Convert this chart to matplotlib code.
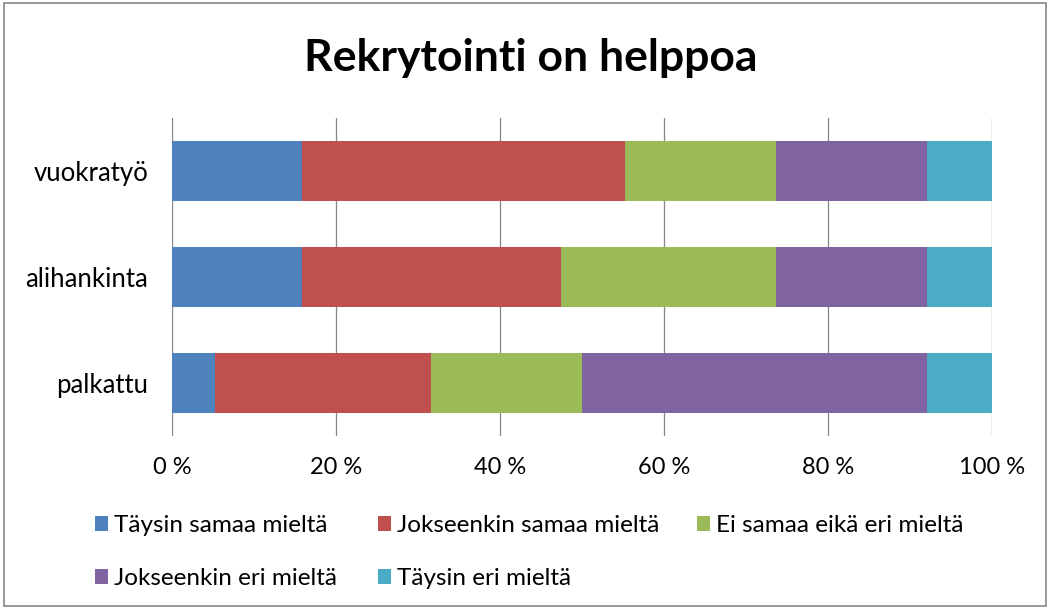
import matplotlib.pyplot as plt
from matplotlib.patches import Rectangle
import numpy as np

plt.rcParams['font.family'] = ['Lato', 'DejaVu Sans']

# Data (percent of answers)
categories = ['palkattu', 'alihankinta', 'vuokratyö']
series = ['Täysin samaa mieltä', 'Jokseenkin samaa mieltä', 'Ei samaa eikä eri mieltä',
          'Jokseenkin eri mieltä', 'Täysin eri mieltä']
taysin_samaa = [5.3, 15.8, 15.8]
jokseenkin_samaa = [26.3, 31.6, 39.5]
ei_samaa_eika_eri = [18.4, 26.3, 18.4]
jokseenkin_eri = [42.1, 18.4, 18.4]
taysin_eri = [7.9, 7.9, 7.9]
xticks = [0, 20, 40, 60, 80, 100]
xtick_labels = ['0 %', '20 %', '40 %', '60 %', '80 %', '100 %']
colors = ['#4F81BD', '#C0504D', '#9BBB59', '#8064A2', '#4BACC6']

values = [taysin_samaa, jokseenkin_samaa, ei_samaa_eika_eri, jokseenkin_eri, taysin_eri]

fig = plt.figure(figsize=(10.48, 6.08), dpi=100)
ax = fig.add_axes([0.1641, 0.2829, 0.7825, 0.523])

y = np.arange(len(categories))
left = np.zeros(len(categories))
handles = []
for name, vals, c in zip(series, values, colors):
    b = ax.barh(y, vals, left=left, height=0.566, color=c, label=name, zorder=3)
    handles.append(b)
    left += np.array(vals)

ax.set_xlim(0, 100)
ax.set_ylim(-0.5, 2.5)
ax.set_xticks(xticks)
ax.set_xticklabels(xtick_labels, fontsize=17)
ax.set_yticks(y)
ax.set_yticklabels(categories, fontsize=18.5)
ax.tick_params(axis='both', length=0)
ax.tick_params(axis='x', pad=15)
ax.tick_params(axis='y', pad=17)
ax.xaxis.grid(True, color='#868686', linewidth=0.9, zorder=0)
ax.set_axisbelow(True)
for s in ax.spines.values():
    s.set_visible(False)

fig.text(0.506, 0.904, 'Rekrytointi on helppoa', ha='center', va='center',
         fontsize=32, fontweight='bold')

# legend laid out row-wise in three columns, like the original
columns = [[0, 3], [1, 4], [2]]
col_x = [95 / 1048, 378 / 1048, 697 / 1048]
for idx, cx in zip(columns, col_x):
    leg = fig.legend([handles[i] for i in idx], [series[i] for i in idx],
                     loc='upper left', bbox_to_anchor=(cx, 0.153), frameon=False,
                     fontsize=17.5, handlelength=0.55, handleheight=0.55,
                     handletextpad=0.25, labelspacing=1.32, borderaxespad=0,
                     borderpad=0)

fig.patches.append(Rectangle((0.004, 0.003), 0.994, 0.992, transform=fig.transFigure,
                             fill=False, edgecolor='#868686', linewidth=1.2))

fig.savefig('out.png', dpi=100)
